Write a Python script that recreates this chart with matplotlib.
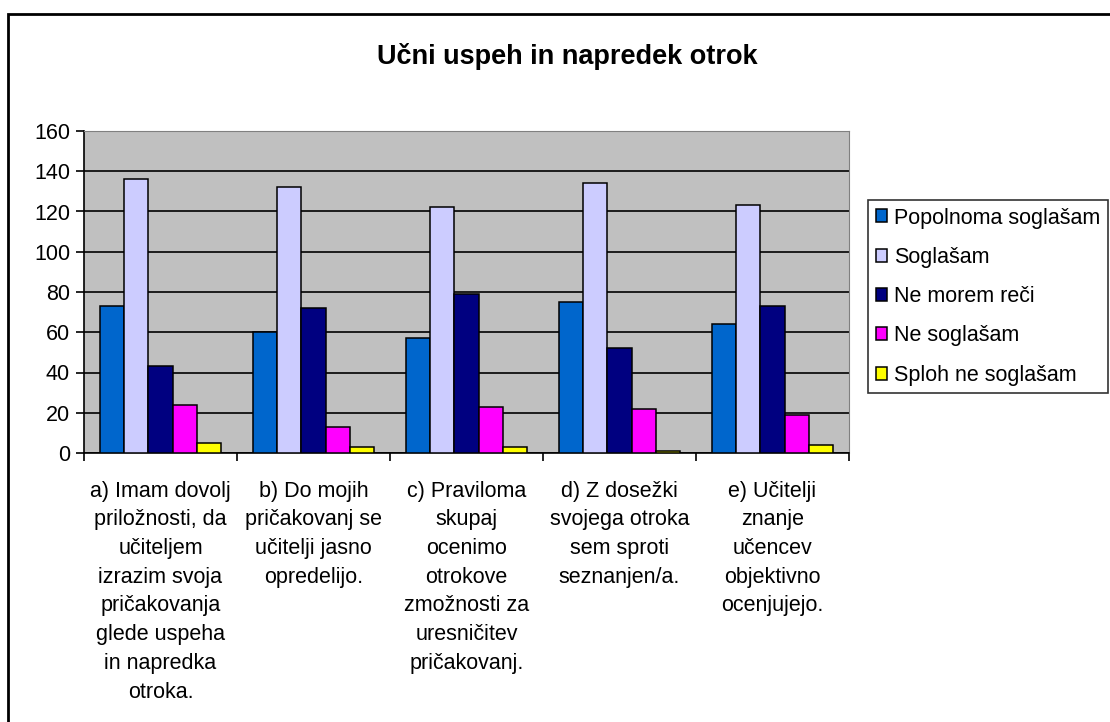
import numpy as np
import matplotlib.pyplot as plt
from matplotlib.patches import Rectangle

plt.rcParams['font.family'] = ['Liberation Sans', 'DejaVu Sans']

# kategorije (vprasanja)
categories = [
    'a) Imam dovolj\npriložnosti, da\nučiteljem\nizrazim svoja\npričakovanja\nglede uspeha\nin napredka\notroka.',
    'b) Do mojih\npričakovanj se\nučitelji jasno\nopredelijo.',
    'c) Praviloma\nskupaj\nocenimo\notrokove\nzmožnosti za\nuresničitev\npričakovanj.',
    'd) Z dosežki\nsvojega otroka\nsem sproti\nseznanjen/a.',
    'e) Učitelji\nznanje\nučencev\nobjektivno\nocenjujejo.',
]

series_names = ['Popolnoma soglašam', 'Soglašam', 'Ne morem reči',
                'Ne soglašam', 'Sploh ne soglašam']
popolnoma = [73, 60, 57, 75, 64]
soglasam = [136, 132, 122, 134, 123]
ne_morem = [43, 72, 79, 52, 73]
ne_soglasam = [24, 13, 23, 22, 19]
sploh_ne = [5, 3, 3, 1, 4]
series = [popolnoma, soglasam, ne_morem, ne_soglasam, sploh_ne]
colors = ['#0066CC', '#CCCCFF', '#000080', '#FF00FF', '#FFFF00']

yticks = [0, 20, 40, 60, 80, 100, 120, 140, 160]

fig = plt.figure(figsize=(11.1, 7.22), dpi=100)
# okvir okoli celega grafa
fig.patches.append(Rectangle((8 / 1110, -0.1), 1.2, 1 - 14 / 722 + 0.1,
                             transform=fig.transFigure, fill=False,
                             edgecolor='black', linewidth=2))

ax = fig.add_axes([84 / 1110, 1 - 453 / 722, 765 / 1110, 322 / 722])
ax.set_facecolor('#C0C0C0')

x = np.arange(len(categories))
w = 0.157
for k in range(5):
    ax.bar(x + (k - 2) * w, series[k], w, color=colors[k], edgecolor='black',
           linewidth=1.1, label=series_names[k], zorder=3)

ax.set_ylim(0, 160)
ax.set_xlim(-0.5, 4.5)
ax.set_yticks(yticks)
ax.yaxis.grid(True, color='black', linewidth=1.2, zorder=1)
ax.set_axisbelow(True)

# kljukice med kategorijami
ax.set_xticks(np.arange(-0.5, 5, 1))
ax.set_xticklabels([])
ax.set_xticks(x, minor=True)
ax.set_xticklabels(categories, minor=True, fontsize=15.5, linespacing=1.48,
                   multialignment='center', va='top')
ax.tick_params(axis='x', which='minor', length=0, pad=20)
ax.tick_params(axis='x', which='major', length=6, width=1.2, direction='out')
ax.tick_params(axis='y', labelsize=15.5, length=6, width=1.2, pad=4)

for s in ['top', 'right']:
    ax.spines[s].set_color('#808080')
for s in ['left', 'bottom']:
    ax.spines[s].set_linewidth(1.2)

fig.text(567 / 1110, 1 - 57 / 722, 'Učni uspeh in napredek otrok', ha='center',
         va='center', fontsize=19.5, fontweight='bold')

leg = ax.legend(loc='upper left', bbox_to_anchor=(868 / 1110, 1 - 200 / 722),
                bbox_transform=fig.transFigure, fontsize=15.5, frameon=True,
                fancybox=False, edgecolor='black', handlelength=0.55,
                handleheight=0.55, handletextpad=0.3, labelspacing=0.85,
                borderpad=0.35, borderaxespad=0)
leg.get_frame().set_linewidth(1.2)

fig.savefig('out.png', dpi=100)
